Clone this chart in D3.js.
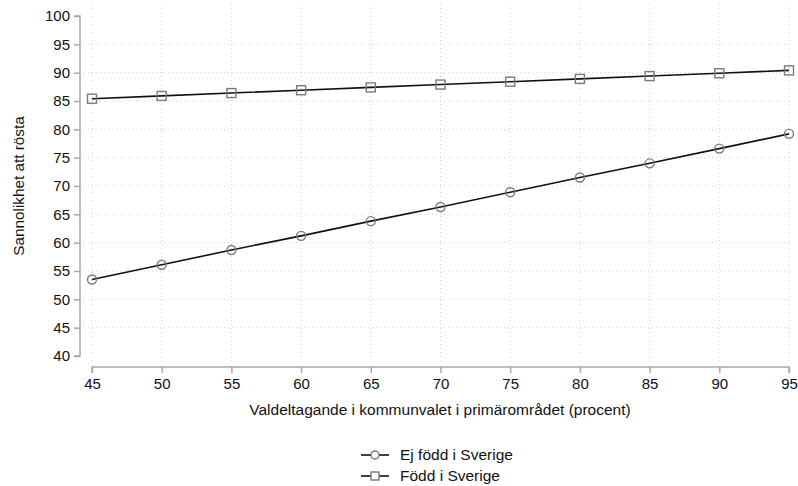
<!DOCTYPE html>
<html><head><meta charset="utf-8">
<script src="https://cdn.jsdelivr.net/npm/d3@7"></script>
<style>body{margin:0;background:#fff}svg{display:block;font-family:"Liberation Sans",Arial,Helvetica,sans-serif}</style>
</head><body><svg id="c" width="798" height="486"></svg>
<script>
const xValues = [45,50,55,60,65,70,75,80,85,90,95];
const ejFodd = [53.5,56.1,58.7,61.2,63.8,66.3,68.9,71.5,74.0,76.6,79.2];
const fodd = [85.4,85.9,86.4,86.9,87.4,87.9,88.4,88.9,89.4,89.9,90.4];
const yTicks = [40,45,50,55,60,65,70,75,80,85,90,95,100];
const seriesNames = ["Ej född i Sverige","Född i Sverige"];

const svg = d3.select("#c");
const x = d3.scaleLinear().domain([45,95]).range([92,789]);
const y = d3.scaleLinear().domain([40,100]).range([356,16]);
const axisCol = "#a8a8a8";

// grid
const g = svg.append("g");
g.selectAll("line.h").data(yTicks.filter(d=>d>40&&d<100)).join("line")
  .attr("x1",84).attr("x2",790).attr("y1",d=>y(d)).attr("y2",d=>y(d))
  .attr("stroke","#cfcfcf").attr("stroke-width",1).attr("stroke-dasharray","1,3");
g.selectAll("line.v").data(xValues).join("line")
  .attr("x1",d=>x(d)).attr("x2",d=>x(d)).attr("y1",4).attr("y2",362)
  .attr("stroke","#cfcfcf").attr("stroke-width",1).attr("stroke-dasharray","1,3");

// axes
const yAxis = svg.append("g").attr("transform","translate(80,0)")
  .call(d3.axisLeft(y).tickValues(yTicks).tickSize(6).tickPadding(4));
const xAxis = svg.append("g").attr("transform","translate(0,367)")
  .call(d3.axisBottom(x).tickValues(xValues).tickSize(6).tickPadding(5));
[yAxis,xAxis].forEach(a=>{
  a.select(".domain").attr("stroke",axisCol).attr("stroke-width",1.5);
  a.selectAll(".tick line").attr("stroke",axisCol).attr("stroke-width",1.5);
  a.selectAll(".tick text").attr("fill","#111").style("font-size","15px").style("font-family","'Liberation Sans',Arial,sans-serif");
});
yAxis.select(".domain").attr("d","M-6,"+y(100)+"H0V"+y(40)+"H-6");
xAxis.select(".domain").attr("d","M"+x(45)+",6V0H"+x(95)+"V6");

// titles
svg.append("text").attr("transform","translate(24,186) rotate(-90)").attr("text-anchor","middle")
  .style("font-size","15.3px").attr("fill","#111").text("Sannolikhet att rösta");
svg.append("text").attr("x",440).attr("y",415).attr("text-anchor","middle")
  .style("font-size","15.5px").attr("fill","#111").text("Valdeltagande i kommunvalet i primärområdet (procent)");

// lines
const line = d3.line().x((d,i)=>x(xValues[i])).y(d=>y(d));
[ejFodd,fodd].forEach(s=>{
  svg.append("path").datum(s).attr("d",line).attr("fill","none").attr("stroke","#111").attr("stroke-width",1.6);
});
const markCol = "#7a7a7a";
svg.selectAll("circle.m").data(ejFodd).join("circle")
  .attr("cx",(d,i)=>x(xValues[i])).attr("cy",d=>y(d)).attr("r",4.5)
  .attr("fill","none").attr("stroke",markCol).attr("stroke-width",1.4);
svg.selectAll("rect.m").data(fodd).join("rect")
  .attr("x",(d,i)=>x(xValues[i])-4.5).attr("y",d=>y(d)-4.5).attr("width",9).attr("height",9)
  .attr("fill","none").attr("stroke",markCol).attr("stroke-width",1.4);

// legend
const leg = svg.append("g");
const rows = [455,476];
seriesNames.forEach((n,i)=>{
  const yy = rows[i];
  leg.append("line").attr("x1",361).attr("x2",389).attr("y1",yy).attr("y2",yy).attr("stroke","#111").attr("stroke-width",1.6);
  if(i===0) leg.append("circle").attr("cx",375).attr("cy",yy).attr("r",4).attr("fill","#fff").attr("stroke",markCol).attr("stroke-width",1.4);
  else leg.append("rect").attr("x",371).attr("y",yy-4).attr("width",8).attr("height",8).attr("fill","#fff").attr("stroke",markCol).attr("stroke-width",1.4);
  leg.append("text").attr("x",400).attr("y",yy+5).style("font-size","15.5px").attr("fill","#111").text(n);
});
</script></body></html>
